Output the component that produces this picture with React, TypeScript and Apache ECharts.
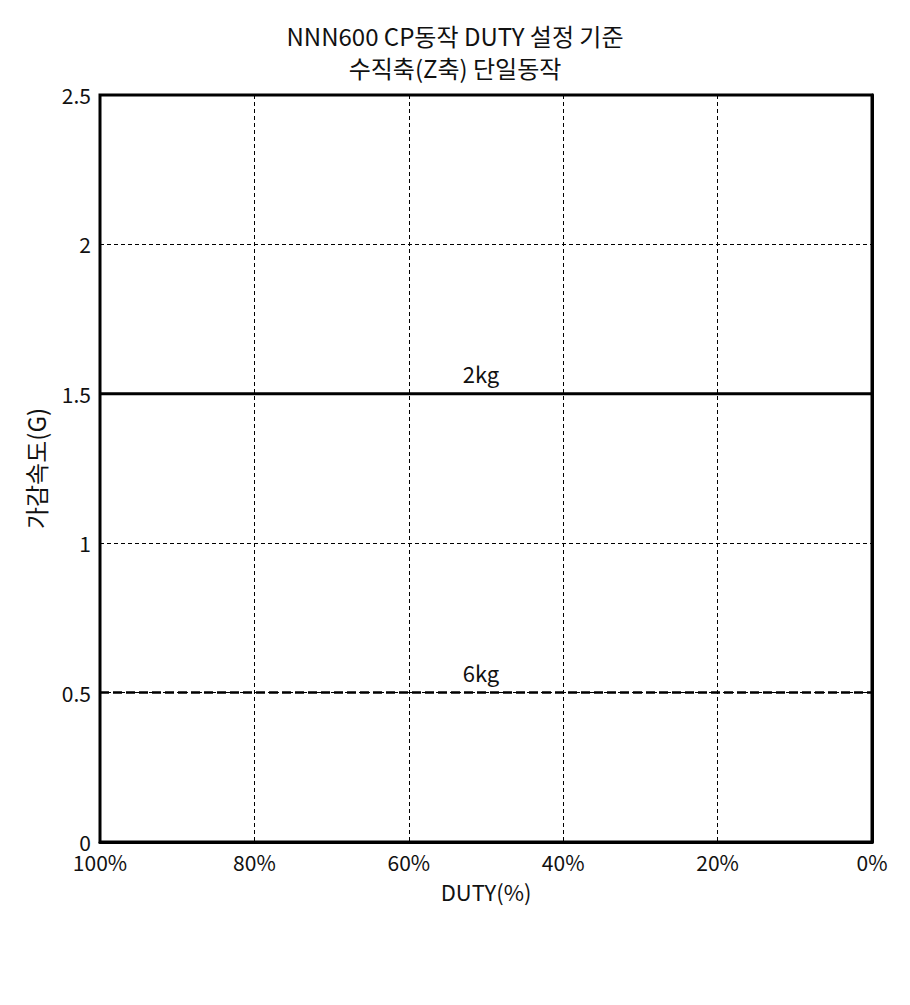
import React, { useEffect, useRef } from "react";
import * as echarts from "echarts";

const titleLines = ["NNN600 CP동작 DUTY 설정 기준", "수직축(Z축) 단일동작"];
const dutyPoints = [100, 50, 0];
const load2kg = [1.5, 1.5, 1.5];
const load6kg = [0.5, 0.5, 0.5];
const seriesNames = ["2kg", "6kg"];

const FONT = "'Noto Sans CJK KR', 'Noto Sans', sans-serif";

export default function App() {
  const ref = useRef<HTMLDivElement>(null);

  useEffect(() => {
    if (!ref.current) return;
    const chart = echarts.init(ref.current, undefined, { renderer: "svg" });

    // Only the middle point carries the series name above the line
    const mkData = (vals: number[]) =>
      dutyPoints.map((d, i) => ({
        value: [d, vals[i]],
        label: { show: i === 1 },
      }));

    const lineLabel = (text: string) => ({
      position: "top",
      distance: 10,
      formatter: text,
      fontFamily: FONT,
      fontSize: 22,
      color: "#111",
      offset: [-5, 0],
    });

    chart.setOption({
      animation: false,
      backgroundColor: "#fff",
      title: {
        text: titleLines.join("\n"),
        left: "center",
        top: 14,
        textStyle: {
          fontFamily: FONT,
          fontSize: 24,
          fontWeight: "normal",
          color: "#111",
          lineHeight: 32,
        },
      },
      grid: {
        left: 100,
        right: 38,
        top: 95,
        bottom: 163,
        show: true,
        borderColor: "#000",
        borderWidth: 3,
        containLabel: false,
      },
      xAxis: {
        type: "value",
        min: 0,
        max: 100,
        interval: 20,
        inverse: true,
        name: "DUTY(%)",
        nameLocation: "middle",
        nameGap: 38,
        nameTextStyle: { fontFamily: FONT, fontSize: 22, color: "#111" },
        axisLine: { show: true, lineStyle: { color: "#000", width: 3 } },
        axisTick: { show: false },
        axisLabel: {
          fontFamily: FONT,
          fontSize: 21,
          color: "#111",
          margin: 10,
          lineHeight: 20,
          formatter: (v: number) => `${v}%`,
        },
        splitLine: {
          show: true,
          lineStyle: { color: "#000", width: 1, type: [4, 3] },
        },
      },
      yAxis: {
        type: "value",
        min: 0,
        max: 2.5,
        interval: 0.5,
        name: "가감속도(G)",
        nameLocation: "middle",
        nameGap: 53,
        nameRotate: 90,
        nameTextStyle: { fontFamily: FONT, fontSize: 24, color: "#111" },
        axisLine: { show: true, lineStyle: { color: "#000", width: 3 } },
        axisTick: { show: false },
        axisLabel: {
          fontFamily: FONT,
          fontSize: 21,
          color: "#111",
          margin: 9,
          lineHeight: 16,
          padding: [0, 0, 5, 0],
        },
        splitLine: {
          show: true,
          lineStyle: { color: "#000", width: 1, type: [4, 3] },
        },
      },
      series: [
        {
          name: seriesNames[0],
          type: "line",
          data: mkData(load2kg),
          symbol: "circle",
          symbolSize: 0,
          showSymbol: true,
          lineStyle: { color: "#000", width: 3 },
          itemStyle: { color: "#000" },
          label: lineLabel(seriesNames[0]),
        },
        {
          name: seriesNames[1],
          type: "line",
          data: mkData(load6kg),
          symbol: "circle",
          symbolSize: 0,
          showSymbol: true,
          lineStyle: { color: "#000", width: 2.5, type: [9, 4] },
          itemStyle: { color: "#000" },
          label: lineLabel(seriesNames[1]),
        },
      ],
    });

    return () => chart.dispose();
  }, []);

  return (
    <div
      ref={ref}
      style={{ position: "fixed", left: 0, top: 0, width: 910, height: 1005 }}
    />
  );
}
